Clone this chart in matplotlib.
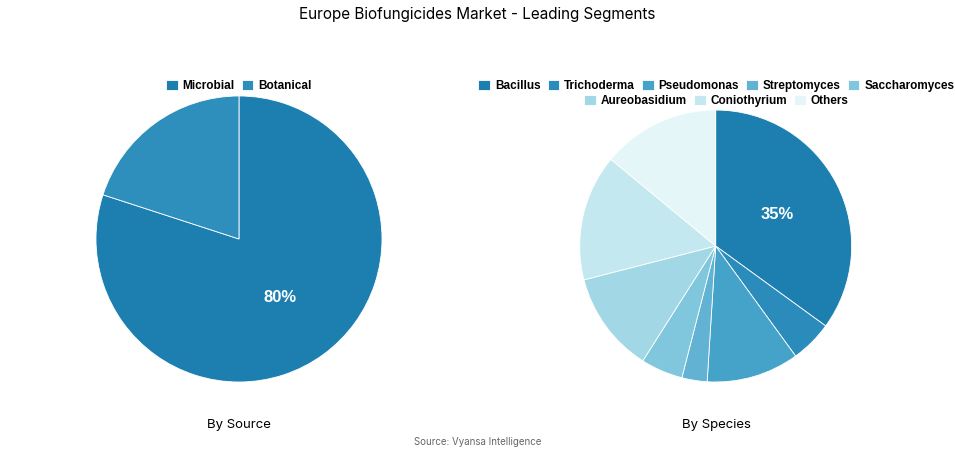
import matplotlib.pyplot as plt

source_labels = ['Microbial', 'Botanical']
source_values = [80, 20]
source_colors = ['#1c7fb0', '#2e8fbd']

species_labels = ['Bacillus', 'Trichoderma', 'Pseudomonas', 'Streptomyces',
                  'Saccharomyces', 'Aureobasidium', 'Coniothyrium', 'Others']
species_values = [35, 5, 11, 3, 5, 12, 15, 14]
species_colors = ['#1c7fb0', '#2b8bbb', '#45a2c8', '#62b3d3', '#80c6dc',
                  '#a2d8e6', '#c3e8ef', '#e5f6f9']

plt.rcParams['font.family'] = ['Inter', 'DejaVu Sans']
fig = plt.figure(figsize=(9.55, 4.54), dpi=100)
fig.suptitle('Europe Biofungicides Market - Leading Segments', fontsize=11, y=0.985)

ax1 = fig.add_axes([0.1005, 0.1586, 0.2995, 0.63])
ax2 = fig.add_axes([0.607, 0.1586, 0.2848, 0.599])

leg_kw = dict(frameon=False, handlelength=1, handleheight=0.9, columnspacing=0.6,
              handletextpad=0.4, prop={'family': 'Liberation Sans', 'weight': 'bold', 'size': 8.5})

def draw(ax, values, colors):
    wedges, _ = ax.pie(values, colors=colors, startangle=90, counterclock=False,
                       wedgeprops=dict(edgecolor='white', linewidth=0.6))
    ax.set_xlim(-1, 1)
    ax.set_ylim(-1, 1)
    ax.set_aspect('equal')
    return wedges

w1 = draw(ax1, source_values, source_colors)
ax1.text(0.29, -0.41, '80%', color='white', fontsize=12, fontweight='bold',
         family='Liberation Sans', ha='center', va='center')
fig.legend(w1, source_labels, loc='center', bbox_to_anchor=(0.25, 0.81), ncol=2, **leg_kw)

w2 = draw(ax2, species_values, species_colors)
ax2.text(0.45, 0.23, '35%', color='white', fontsize=12, fontweight='bold',
         family='Liberation Sans', ha='center', va='center')
fig.legend(w2[:5], species_labels[:5], loc='center', bbox_to_anchor=(0.75, 0.81), ncol=5, **leg_kw)
fig.legend(w2[5:], species_labels[5:], loc='center', bbox_to_anchor=(0.75, 0.778), ncol=3, **leg_kw)

fig.text(0.25, 0.064, 'By Source', ha='center', va='center', fontsize=9.5)
fig.text(0.75, 0.064, 'By Species', ha='center', va='center', fontsize=9.5)
fig.text(0.5, 0.02, 'Source: Vyansa Intelligence', ha='center', fontsize=7, color='#666666')
fig.savefig('out.png', dpi=100)
